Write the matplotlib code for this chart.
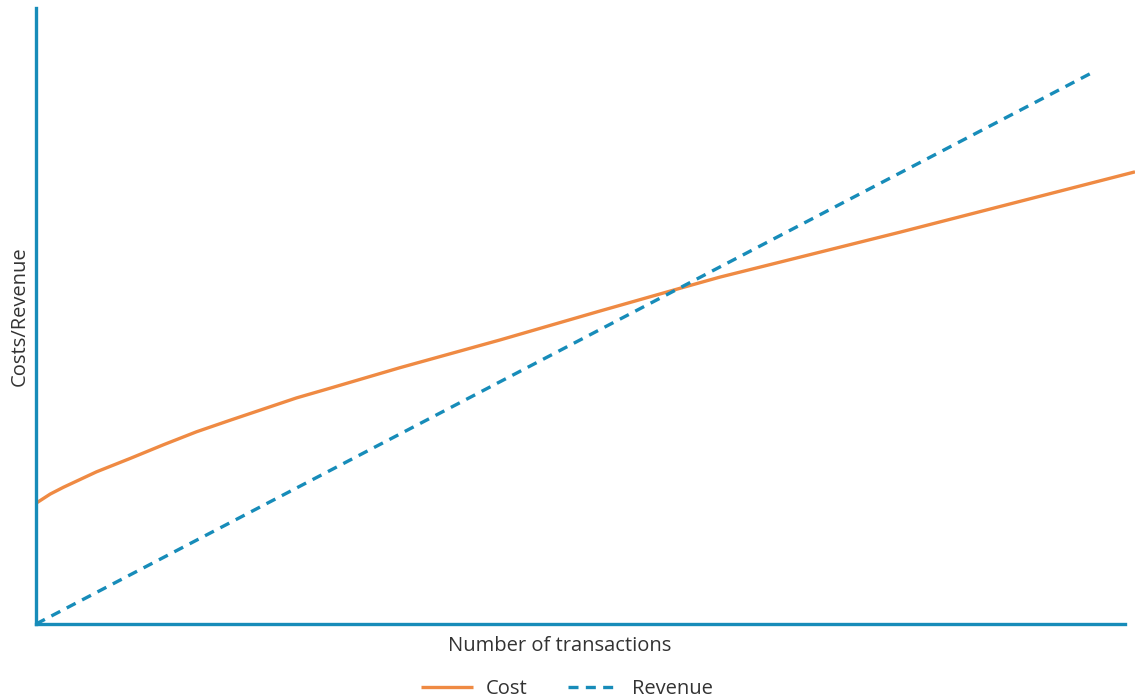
import matplotlib.pyplot as plt

plt.rcParams['font.family'] = ['Open Sans', 'DejaVu Sans']

# cost curve
cost_x = [0, 1.3, 2.5, 5.5, 8.6, 11.6, 14.6, 17.7, 20.7, 23.7, 26.8, 33.1, 42.2, 51.3, 58.6, 62.2, 78.6, 100]
cost_y = [19.6, 21.1, 22.2, 24.7, 26.9, 29.1, 31.2, 33.1, 34.9, 36.7, 38.3, 41.6, 46.1, 50.8, 54.5, 56.3, 63.6, 73.4]

# revenue line
rev_x = [0, 96.2]
rev_y = [0, 89.6]

orange = '#EF8A43'
blue = '#178CB9'
text_col = '#333333'

fig = plt.figure(figsize=(11.35, 6.97), dpi=100)
ax = fig.add_axes([36 / 1135, 1 - 624 / 697, 1099 / 1135, 616 / 697])

ax.plot(cost_x, cost_y, color=orange, lw=2.4, label='Cost', solid_capstyle='butt',
        solid_joinstyle='round', clip_on=False)
ax.plot(rev_x, rev_y, color=blue, lw=2.4, ls=(0, (3, 2.2)), label='Revenue', clip_on=False)

ax.set_xlim(0, 100)
ax.set_ylim(0, 100)
ax.set_xticks([])
ax.set_yticks([])
for s in ['top', 'right']:
    ax.spines[s].set_visible(False)
for s in ['left', 'bottom']:
    ax.spines[s].set_color(blue)
    ax.spines[s].set_linewidth(2.4)
ax.spines['bottom'].set_bounds(0, 99.1)

ax.set_xlabel('Number of transactions', fontsize=14.5, color=text_col)
ax.xaxis.set_label_coords((560 - 36) / 1099, -0.02)
ax.xaxis.label.set_va('top')
ax.set_ylabel('Costs/Revenue', fontsize=14.5, color=text_col)
ax.yaxis.set_label_coords(-0.006, 0.5)

leg = fig.legend(loc='center', bbox_to_anchor=(567 / 1135, 1 - 689 / 697), ncol=2,
                 frameon=False, fontsize=14.5, handlelength=2.6,
                 columnspacing=2.0, handletextpad=0.6, labelcolor=text_col)

fig.savefig('out.png', dpi=100)
